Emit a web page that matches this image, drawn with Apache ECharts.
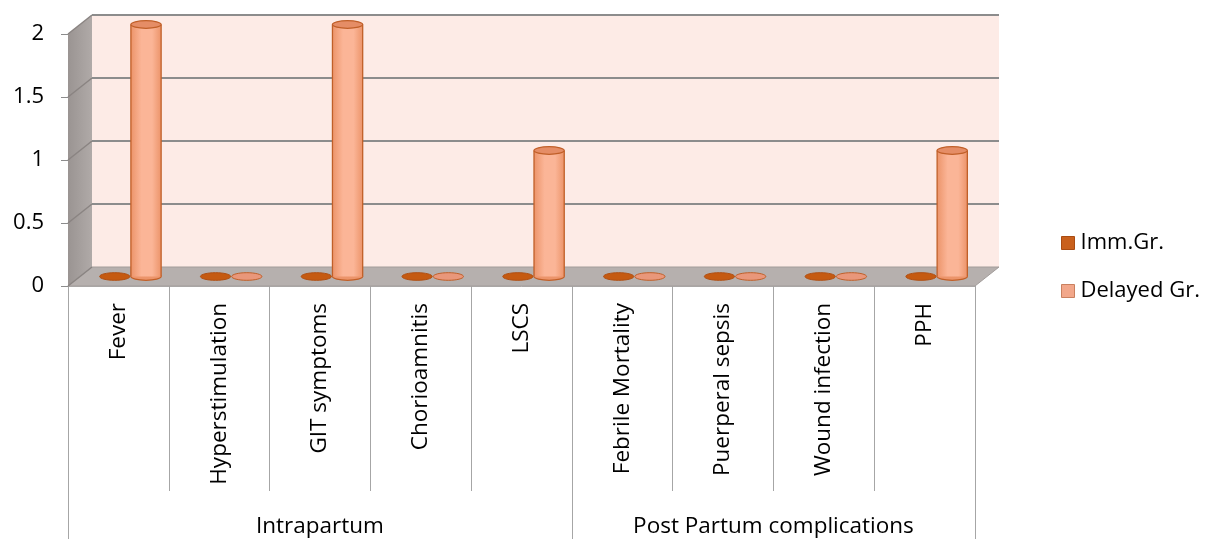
<!DOCTYPE html>
<html>
<head>
<meta charset="utf-8">
<script src="https://cdn.jsdelivr.net/npm/echarts@6/dist/echarts.min.js"></script>
<style>
  html, body { margin: 0; padding: 0; background: #ffffff; }
  #chart { width: 1215px; height: 539px; }
</style>
</head>
<body>
<div id="chart"></div>
<script>
// Complications by group
const categories = ['Fever', 'Hyperstimulation', 'GIT symptoms', 'Chorioamnitis', 'LSCS',
  'Febrile Mortality', 'Puerperal sepsis', 'Wound infection', 'PPH'];
const groupNames = ['Intrapartum', 'Post Partum complications'];
const groupBounds = [0, 5, 9];
const immGr = [0, 0, 0, 0, 0, 0, 0, 0, 0];
const delayedGr = [2, 0, 2, 0, 1, 0, 0, 0, 1];
const yTicks = [0, 0.5, 1, 1.5, 2];
const seriesNames = ['Imm.Gr.', 'Delayed Gr.'];

// 3D depth offset of the back wall
const DX = 24, DY = -19;
const FONT = '"Open Sans", "Noto Sans", sans-serif';
const groupMids = groupBounds.slice(0, -1).map((b, k) => (b + groupBounds[k + 1]) / 2);

function wallsItem(params, api) {
  const cs = params.coordSys;
  const L = cs.x, R = cs.x + cs.width, T = cs.y, B = cs.y + cs.height;
  return {
    type: 'group',
    children: [
      { type: 'polygon', shape: { points: [[L + DX, T + DY], [R + DX, T + DY], [R + DX, B + DY], [L + DX, B + DY]] },
        style: { fill: '#fdebe6' } },
      { type: 'polygon', shape: { points: [[L, T], [L + DX, T + DY], [L + DX, B + DY], [L, B]] },
        style: { fill: new echarts.graphic.LinearGradient(0, 0, 1, 0, [
          { offset: 0, color: '#9a9492' }, { offset: 1, color: '#b0aaa8' }]) } },
      { type: 'polygon', shape: { points: [[L, B], [L + DX, B + DY], [R + DX, B + DY], [R, B]] },
        style: { fill: '#b6b0ae', stroke: '#a29c9a', lineWidth: 1 } }
    ]
  };
}

function gridLineItem(params, api) {
  const cs = params.coordSys;
  const L = cs.x, R = cs.x + cs.width;
  const y = api.coord([0, api.value(1)])[1];
  const children = [
    { type: 'line', shape: { x1: L, y1: y, x2: L + DX, y2: y + DY },
      style: { stroke: '#8a8482', lineWidth: 1.5 } }
  ];
  if (api.value(1) > 0) {
    children.push({ type: 'line', shape: { x1: L + DX, y1: y + DY, x2: R + DX, y2: y + DY },
      style: { stroke: '#8c8c8c', lineWidth: 2 } });
  }
  return { type: 'group', children };
}

function cylinderSeries(name, values, side, pal) {
  return {
    type: 'custom',
    name: name,
    coordinateSystem: 'cartesian2d',
    data: values.map((v, i) => [i, v]),
    encode: { x: 0, y: 1 },
    itemStyle: { color: pal.legend },
    z: 5,
    renderItem(params, api) {
      const i = api.value(0), v = api.value(1);
      const base = api.coord([i, 0]);
      const top = api.coord([i, v]);
      const band = api.size([1, 0])[0];
      const rx = band * 0.15, ry = 3.8;
      const cx = base[0] + side * band * 0.155 + DX / 2;
      const by = base[1] + DY / 2, ty = top[1] + DY / 2;
      if (by - ty < 1) {
        return { type: 'ellipse', shape: { cx: cx, cy: by, rx: rx, ry: ry },
          style: { fill: pal.flat, stroke: pal.edge, lineWidth: 1 } };
      }
      return {
        type: 'group',
        children: [
          { type: 'ellipse', shape: { cx: cx, cy: by, rx: rx, ry: ry },
            style: { fill: pal.bodyDark, stroke: pal.edge, lineWidth: 1.2 } },
          { type: 'rect', shape: { x: cx - rx, y: ty, width: rx * 2, height: by - ty },
            style: { fill: new echarts.graphic.LinearGradient(0, 0, 1, 0, [
              { offset: 0, color: pal.bodyDark },
              { offset: 0.35, color: pal.bodyLight },
              { offset: 0.7, color: pal.bodyLight },
              { offset: 1, color: pal.bodyDark }]) } },
          { type: 'line', shape: { x1: cx - rx, y1: ty, x2: cx - rx, y2: by },
            style: { stroke: pal.edge, lineWidth: 1.3 } },
          { type: 'line', shape: { x1: cx + rx, y1: ty, x2: cx + rx, y2: by },
            style: { stroke: pal.edge, lineWidth: 1.3 } },
          { type: 'ellipse', shape: { cx: cx, cy: ty, rx: rx, ry: ry },
            style: { fill: pal.topFill, stroke: pal.edge, lineWidth: 1.2 } }
        ]
      };
    }
  };
}

const chart = echarts.init(document.getElementById('chart'), null, { renderer: 'canvas' });
chart.setOption({
  animation: false,
  backgroundColor: '#ffffff',
  grid: { left: 68, top: 34, width: 907, height: 252, containLabel: false },
  legend: {
    orient: 'vertical', left: 1061, top: 232, padding: 0,
    itemWidth: 13, itemHeight: 13, itemGap: 26,
    textStyle: { fontFamily: FONT, fontSize: 22, color: '#000', padding: [0, 0, 0, 1] },
    data: [
      { name: seriesNames[0], icon: 'rect', itemStyle: { color: '#c9601c', borderColor: '#a94c12', borderWidth: 1 } },
      { name: seriesNames[1], icon: 'rect', itemStyle: { color: '#f2a78a', borderColor: '#c9805f', borderWidth: 1 } }
    ]
  },
  xAxis: [
    {
      type: 'category', data: categories, boundaryGap: true,
      axisLine: { show: true, lineStyle: { color: '#b0b0b0', width: 1 } },
      axisTick: { show: true, interval: 0, length: 205, lineStyle: { color: '#a6a6a6' } },
      axisLabel: { interval: 0, rotate: 90, margin: 17, fontFamily: FONT, fontSize: 22.5, color: '#000' },
      splitLine: { show: false }
    },
    {
      type: 'value', min: groupBounds[0], max: groupBounds[groupBounds.length - 1], position: 'bottom',
      axisLine: { show: false },
      axisTick: { show: true, customValues: groupBounds, length: 253, lineStyle: { color: '#a6a6a6' } },
      axisLabel: {
        customValues: groupMids, margin: 229, fontFamily: FONT, fontSize: 22.5, color: '#000',
        formatter: v => groupNames[groupMids.indexOf(v)]
      },
      splitLine: { show: false }
    }
  ],
  yAxis: {
    type: 'value', min: 0, max: 2, interval: 0.5,
    axisLine: { show: true, lineStyle: { color: '#8c8c8c', width: 1 } },
    axisTick: { show: true, length: 7, lineStyle: { color: '#8c8c8c' } },
    axisLabel: { margin: 24, fontFamily: FONT, fontSize: 22, color: '#000' },
    splitLine: { show: false }
  },
  series: [
    { type: 'custom', name: 'walls', coordinateSystem: 'cartesian2d', data: [[0, 0]],
      encode: { x: 0, y: 1 }, renderItem: wallsItem, z: 1, silent: true },
    { type: 'custom', name: 'gridlines', coordinateSystem: 'cartesian2d', data: yTicks.map(t => [0, t]),
      encode: { x: 0, y: 1 }, renderItem: gridLineItem, z: 2, silent: true },
    cylinderSeries(seriesNames[0], immGr, -1, {
      legend: '#c9601c', flat: '#c55a11', edge: '#b04f12', bodyDark: '#c55a11', bodyLight: '#e07a3a', topFill: '#c55a11'
    }),
    cylinderSeries(seriesNames[1], delayedGr, 1, {
      legend: '#f2a78a', flat: '#e9977a', edge: '#c05f28', bodyDark: '#ec946a', bodyLight: '#fbb597', topFill: '#e58d66'
    })
  ]
});
</script>
</body>
</html>
